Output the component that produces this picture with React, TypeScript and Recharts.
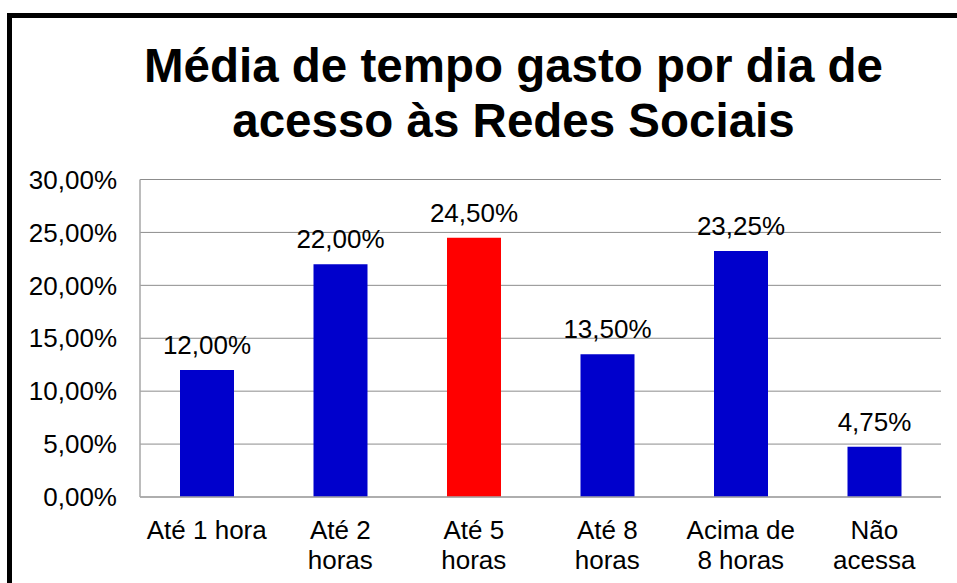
import { BarChart, Bar, XAxis, YAxis, CartesianGrid, Cell, LabelList } from 'recharts';

const categories = ['Até 1 hora', 'Até 2\nhoras', 'Até 5\nhoras', 'Até 8\nhoras', 'Acima de\n8 horas', 'Não\nacessa'];
const percentages = [12, 22, 24.5, 13.5, 23.25, 4.75];
const yTicks = [0, 5, 10, 15, 20, 25, 30];
const highlighted = 'Até 5\nhoras';

const FONT = '"Liberation Sans", Arial, sans-serif';
const BLUE = '#0000CC';
const RED = '#FF0000';

const fmt = (v: number) => v.toFixed(2).replace('.', ',') + '%';

const chartData = categories.map((name, i) => ({ name, value: percentages[i] }));

const CategoryTick = ({ x, y, payload }: any) => {
  const lines = String(payload.value).split('\n');
  return (
    <text x={x} y={y} textAnchor="middle" fill="#000" fontSize={26} fontFamily={FONT}>
      {lines.map((line, i) => (
        <tspan key={i} x={x} dy={i === 0 ? 42 : 30}>
          {line}
        </tspan>
      ))}
    </text>
  );
};

const App = () => {
  return (
    <div style={{ position: 'absolute', left: 0, top: 0, width: 957, height: 583, overflow: 'hidden', background: '#fff' }}>
      <div
        style={{
          position: 'absolute',
          left: 7,
          top: 13,
          width: 1000,
          height: 620,
          border: '5px solid #000',
        }}
      />
      <div
        style={{
          position: 'absolute',
          left: 0,
          top: 38,
          width: 1027,
          textAlign: 'center',
          fontFamily: FONT,
          fontWeight: 'bold',
          fontSize: 47.5,
          lineHeight: '55px',
          color: '#000',
        }}
      >
        Média de tempo gasto por dia de
        <br />
        acesso às Redes Sociais
      </div>
      <div style={{ position: 'absolute', left: 0, top: 0 }}>
        <BarChart
          width={957}
          height={583}
          data={chartData}
          margin={{ top: 179.5, right: 16, left: 0, bottom: 0 }}
          barSize={54}
        >
          <CartesianGrid vertical={false} stroke="#8c8c8c" strokeWidth={1} />
          <XAxis
            dataKey="name"
            height={86}
            interval={0}
            tickLine={false}
            tickSize={0}
            tickMargin={0}
            axisLine={{ stroke: '#a6a6a6', strokeWidth: 1.5 }}
            tick={<CategoryTick />}
          />
          <YAxis
            width={140}
            domain={[0, 30]}
            ticks={yTicks}
            interval={0}
            tickLine={false}
            tickSize={0}
            tickMargin={23}
            axisLine={{ stroke: '#a6a6a6', strokeWidth: 1.5 }}
            tickFormatter={fmt}
            tick={{ fill: '#000', fontSize: 26, fontFamily: FONT }}
          />
          <Bar dataKey="value" isAnimationActive={false}>
            {chartData.map((d, index) => (
              <Cell key={`cell-${index}`} fill={d.name === highlighted ? RED : BLUE} />
            ))}
            <LabelList
              dataKey="value"
              position="top"
              offset={16}
              formatter={(v: any) => fmt(Number(v))}
              style={{ fill: '#000', fontSize: 26, fontFamily: FONT }}
            />
          </Bar>
        </BarChart>
      </div>
    </div>
  );
};

export default App;
